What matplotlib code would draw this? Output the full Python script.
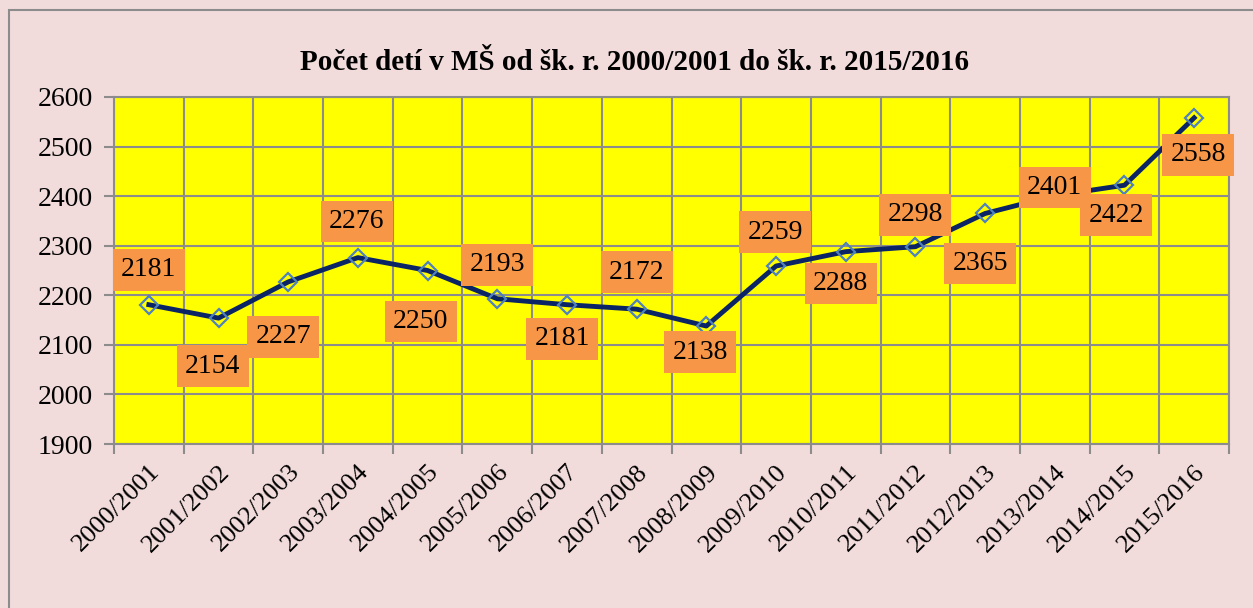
import matplotlib.pyplot as plt
from matplotlib.patches import Rectangle

years = ['2000/2001', '2001/2002', '2002/2003', '2003/2004', '2004/2005', '2005/2006',
         '2006/2007', '2007/2008', '2008/2009', '2009/2010', '2010/2011', '2011/2012',
         '2012/2013', '2013/2014', '2014/2015', '2015/2016']
children = [2181, 2154, 2227, 2276, 2250, 2193, 2181, 2172, 2138, 2259, 2288, 2298,
            2365, 2401, 2422, 2558]

# label offsets in pixels (dx, dy) relative to each point
offsets = [(0, 35), (-6, -48), (-5, -55), (-1, 36), (-7, -51), (0, 34), (-5, -34), (0, 37),
           (-6, -26), (-1, 34), (-5, -32), (0, 32), (-5, -50), (0, 8), (-8, -30), (4, -37)]

plt.rcParams['font.family'] = ['Liberation Serif', 'DejaVu Serif']

fig = plt.figure(figsize=(12.53, 6.08), dpi=100)
fig.patch.set_facecolor('#F2DCDB')
fig.patches.append(Rectangle((9 / 1253, -0.1), 1.2, (598 / 608) + 0.1, transform=fig.transFigure,
                             fill=False, edgecolor='#8C8C8C', linewidth=1.5))

ax = fig.add_axes([114 / 1253, 1 - 444 / 608, 1115 / 1253, 347 / 608])
ax.set_facecolor('#FFFF00')

x = list(range(len(years)))
ax.plot(x, children, color='#0A2465', linewidth=3.5, zorder=3,
        marker='D', markersize=9, markerfacecolor='none',
        markeredgecolor='#4F81BD', markeredgewidth=1.6)

for xi, v, (dx, dy) in zip(x, children, offsets):
    ax.annotate(str(v), xy=(xi, v), xytext=(dx, dy), textcoords='offset pixels',
                ha='center', va='center', fontsize=20, zorder=4,
                bbox=dict(boxstyle='square,pad=0.3', facecolor='#F79646', edgecolor='none'))

ax.set_xlim(-0.5, len(years) - 0.5)
ax.set_ylim(1900, 2600)
ax.set_yticks(range(1900, 2601, 100))
ax.set_xticks([i - 0.5 for i in range(len(years) + 1)], minor=False)
ax.set_xticklabels([])
ax.set_xticks(x, minor=True)
ax.set_xticklabels(years, minor=True, rotation=45, ha='right', va='top',
                   rotation_mode='anchor', fontsize=19)
ax.tick_params(axis='x', which='minor', length=0, pad=12)
ax.tick_params(axis='x', which='major', length=7, color='#8C8C8C', width=1.5)
ax.tick_params(axis='y', length=7, color='#8C8C8C', width=1.5, labelsize=20, pad=8)
ax.grid(True, which='major', color='#8C8C8C', linewidth=1.5, zorder=0)
ax.set_axisbelow(True)
for s in ax.spines.values():
    s.set_color('#8C8C8C')
    s.set_linewidth(1.5)

fig.text(634 / 1253, 1 - 63 / 608, 'Počet detí v MŠ od šk. r. 2000/2001 do šk. r. 2015/2016',
         ha='center', va='center', fontsize=21, fontweight='bold')

fig.savefig('out.png', dpi=100, facecolor=fig.get_facecolor())
